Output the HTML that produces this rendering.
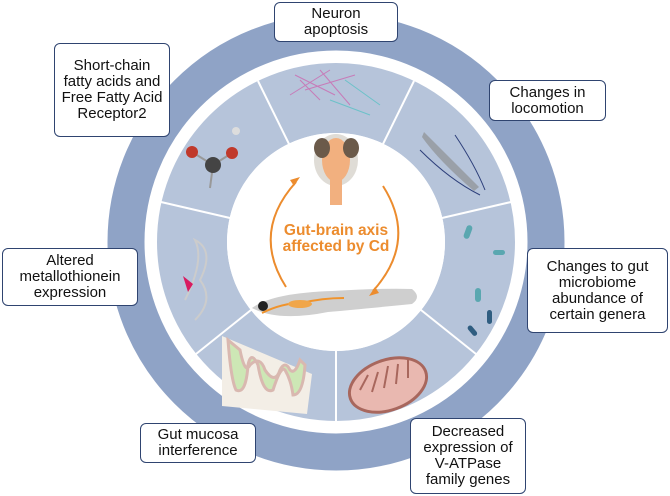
<!DOCTYPE html>
<html><head><meta charset="utf-8"><style>
body{margin:0;background:#fff;width:670px;height:496px;overflow:hidden;font-family:"Liberation Sans",sans-serif}
.b{position:absolute;background:#fff;border:1.5px solid #2f4470;border-radius:6px;box-sizing:border-box;display:flex;align-items:center;justify-content:center;text-align:center;font-size:15px;line-height:16px;color:#111}
</style></head><body>
<svg width="670" height="496" style="position:absolute;left:0;top:0">
<circle cx="336" cy="242" r="210" fill="none" stroke="#8fa3c6" stroke-width="37"/>
<circle cx="336" cy="242" r="144" fill="none" stroke="#b6c4da" stroke-width="70"/>
<g stroke="#fff" stroke-width="2">
<line x1="336" y1="351" x2="336" y2="421"/>
<line x1="251" y1="310" x2="196" y2="354"/>
<line x1="230" y1="218" x2="161" y2="202"/>
<line x1="289" y1="144" x2="258" y2="81"/>
<line x1="383" y1="144" x2="414" y2="81"/>
<line x1="442" y1="218" x2="511" y2="202"/>
<line x1="421" y1="310" x2="476" y2="354"/>
</g>
<circle cx="336" cy="242" r="109" fill="#fff"/>
<g stroke="#c77bb8" stroke-width="1" fill="none"><path d="M295 75 l40 20 M305 90 l50 -15 M320 70 l30 35 M290 95 l40 -25 M300 80 l20 20"/></g>
<g stroke="#6cc2c9" stroke-width="1" fill="none"><path d="M330 100 l40 15 M345 80 l35 25"/></g>
<path d="M424 132 q20 20 55 55 l-5 4 q-35 -30 -52 -54z" fill="#9aa0a8"/>
<path d="M420 150 q30 30 60 45 M455 135 q20 30 30 55" stroke="#2d3f7a" fill="none"/>
<line x1="213" y1="165" x2="192" y2="152" stroke="#999" stroke-width="2"/><line x1="213" y1="165" x2="232" y2="153" stroke="#999" stroke-width="2"/><line x1="213" y1="165" x2="210" y2="188" stroke="#999" stroke-width="2"/>
<circle cx="213" cy="165" r="8" fill="#444"/><circle cx="192" cy="152" r="6" fill="#c0392b"/><circle cx="232" cy="153" r="6" fill="#c0392b"/><circle cx="236" cy="131" r="4" fill="#ddd"/>
<path d="M185 300 q20 -40 10 -60 q20 10 5 40 q15 20 -5 40" stroke="#ccc" fill="none" stroke-width="2"/>
<path d="M183 276 l10 8 -5 8 z" fill="#d81b60"/>
<path d="M222 336 l0 70 l85 8 l5 -40z" fill="#f3eee6"/>
<path d="M228 340 q3 40 8 50 q10 5 12 -25 q3 -15 10 0 q5 30 15 25 q8 -25 12 -20 q6 10 8 25 q10 0 12 -30 l-5 -5 q-5 15 -10 10 q-5 -10 -10 0 q-5 15 -15 0 q-5 -15 -15 -5 q-5 10 -10 -15z" fill="#cde7b5" stroke="#d9b8b0" stroke-width="3"/>
<ellipse cx="388" cy="385" rx="40" ry="25" transform="rotate(-20 388 385)" fill="#e9b8b0" stroke="#a8675d" stroke-width="3"/>
<path d="M360 390 l8 -15 M372 392 l6 -20 M384 388 l4 -22 M396 384 l2 -20 M408 378 l0 -18" stroke="#a8675d" stroke-width="2"/>
<g fill="#5aa7b0"><rect x="465" y="225" width="6" height="14" rx="3" transform="rotate(20 468 232)"/><rect x="475" y="288" width="6" height="14" rx="3"/><rect x="493" y="250" width="12" height="5" rx="2.5"/><rect x="487" y="310" width="5" height="14" rx="2.5" fill="#2f5d80"/><rect x="470" y="325" width="5" height="12" rx="2.5" fill="#2f5d80" transform="rotate(-40 472 331)"/></g>
<ellipse cx="336" cy="160" rx="22" ry="26" fill="#dfdcd6"/>
<ellipse cx="336" cy="160" rx="14" ry="22" fill="#f2b07f"/>
<ellipse cx="322" cy="148" rx="8" ry="10" fill="#6b5a4a"/><ellipse cx="351" cy="148" rx="8" ry="10" fill="#6b5a4a"/>
<rect x="330" y="175" width="12" height="30" fill="#f2b07f"/>
<path d="M252 308 q20 -15 80 -17 q50 -3 80 -2 q10 8 0 15 q-50 5 -84 8 q-50 10 -76 -4z" fill="#cfcfcf"/>
<circle cx="263" cy="306" r="5" fill="#222"/>
<path d="M262 313 q20 -10 40 -10 q20 -5 42 -5" stroke="#f0932b" stroke-width="2" fill="none"/>
<ellipse cx="300" cy="304" rx="12" ry="4" fill="#f0a64a"/>
<g stroke="#ec8c2e" stroke-width="2" fill="none">
<path d="M286 287 q-35 -55 10 -105"/><path d="M383 186 q35 55 -10 105"/></g>
<path d="M300 177 l-10 3 4 6z M369 296 l10 -3 -4 -6z" fill="#ec8c2e"/>
<text x="336" y="235" text-anchor="middle" font-size="15.5" font-weight="bold" fill="#ec8c2e">Gut-brain axis</text>
<text x="336" y="251" text-anchor="middle" font-size="15.5" font-weight="bold" fill="#ec8c2e">affected by Cd</text>
</svg>
<div class="b" style="left:274px;top:2px;width:124px;height:40px">Neuron<br>apoptosis</div>
<div class="b" style="left:54px;top:43px;width:116px;height:94px">Short-chain<br>fatty acids and<br>Free Fatty Acid<br>Receptor2</div>
<div class="b" style="left:489px;top:80px;width:117px;height:41px">Changes in<br>locomotion</div>
<div class="b" style="left:527px;top:248px;width:141px;height:85px">Changes to gut<br>microbiome<br>abundance of<br>certain genera</div>
<div class="b" style="left:2px;top:248px;width:136px;height:58px">Altered<br>metallothionein<br>expression</div>
<div class="b" style="left:140px;top:423px;width:116px;height:40px">Gut mucosa<br>interference</div>
<div class="b" style="left:410px;top:418px;width:116px;height:76px">Decreased<br>expression of<br>V-ATPase<br>family genes</div>
</body></html>
